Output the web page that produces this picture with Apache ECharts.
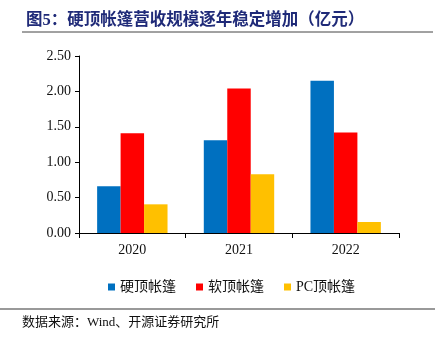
<!DOCTYPE html>
<html><head><meta charset="utf-8">
<script src="https://cdn.jsdelivr.net/npm/echarts@6/dist/echarts.min.js"></script>
<style>html,body{margin:0;padding:0;background:#fff}#c{width:435px;height:337px}</style>
</head><body><div id="c"></div>
<script>
const categories = ['2020', '2021', '2022'];
const hardTop = [0.66, 1.31, 2.15];
const softTop = [1.41, 2.04, 1.42];
const pcTop = [0.405, 0.83, 0.155];
const seriesNames = ['硬顶帐篷', '软顶帐篷', 'PC顶帐篷'];
const yTicks = [0, 0.5, 1.0, 1.5, 2.0, 2.5];

const serif = '"Liberation Serif", "Times New Roman", "Noto Sans CJK SC", serif';
const chart = echarts.init(document.getElementById('c'), null, {renderer: 'canvas'});
chart.setOption({
  animation: false,
  backgroundColor: '#fff',
  title: {
    text: '图5：硬顶帐篷营收规模逐年稳定增加（亿元）',
    left: 21, top: 7,
    textStyle: {fontFamily: serif, fontSize: 16.5, fontWeight: 'bold', color: '#1F2A78'}
  },
  graphic: [
    {type: 'line', shape: {x1: 22, y1: 32, x2: 433, y2: 32}, style: {stroke: '#444', lineWidth: 1}},
    {type: 'line', shape: {x1: 0, y1: 309, x2: 435, y2: 309}, style: {stroke: '#999', lineWidth: 2}},
    {type: 'text', left: 22, top: 316, style: {text: '数据来源：Wind、开源证券研究所', font: '13px ' + serif, fill: '#111'}}
  ],
  legend: {
    top: 275, left: 103,
    itemWidth: 7, itemHeight: 7, itemGap: 20,
    icon: 'rect',
    textStyle: {fontFamily: serif, fontSize: 14, color: '#111'},
    data: seriesNames
  },
  grid: {left: 79, right: 36, top: 56, bottom: 104, containLabel: false},
  xAxis: {
    type: 'category', data: categories,
    axisLine: {lineStyle: {color: '#000', width: 1}},
    axisTick: {show: true, length: 5, alignWithLabel: false, lineStyle: {color: '#000'}},
    axisLabel: {fontFamily: serif, fontSize: 14, color: '#111', margin: 10}
  },
  yAxis: {
    type: 'value', min: 0, max: 2.5, interval: 0.5,
    axisLine: {show: true, lineStyle: {color: '#000', width: 1}},
    axisTick: {show: true, inside: false, length: 4, lineStyle: {color: '#000'}},
    splitLine: {show: false},
    axisLabel: {fontFamily: serif, fontSize: 14, color: '#111', margin: 8,
      formatter: v => v.toFixed(2)}
  },
  series: [
    {name: seriesNames[0], type: 'bar', data: hardTop, itemStyle: {color: '#0070C0'}, barGap: '0%', barCategoryGap: '34%'},
    {name: seriesNames[1], type: 'bar', data: softTop, itemStyle: {color: '#FF0000'}, barGap: '0%', barCategoryGap: '34%'},
    {name: seriesNames[2], type: 'bar', data: pcTop, itemStyle: {color: '#FFC000'}, barGap: '0%', barCategoryGap: '34%'}
  ]
});
</script></body></html>
